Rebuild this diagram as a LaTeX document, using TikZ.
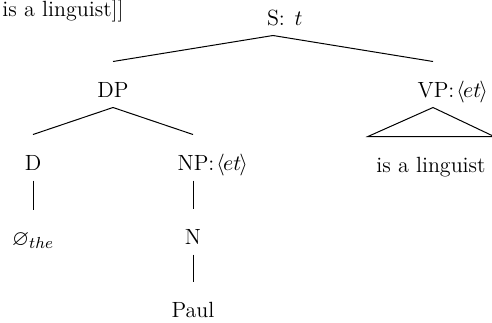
\documentclass[tikz,border=0pt]{standalone}
\usepackage{amssymb}
\begin{document}
\begin{tikzpicture}[x=0.5pt,y=-0.5pt,font=\fontsize{11pt}{13pt}\selectfont,line width=0.5pt,
  cat/.style={anchor=base,inner xsep=1pt,inner ysep=5pt,text height=12.5pt,text depth=0pt}]
  \useasboundingbox (0,0) rectangle (492,322);
  \clip (0,0) rectangle (492,322);
  % caption fragment
  \node[anchor=base west,inner sep=0pt] (cap) at (2,16) {is a linguist]]};
  % tree nodes
  \node[cat] (S) at (273,25) {S\rlap{: $t$}};
  \node[cat] (DP) at (113,97) {DP};
  \node[cat] (VP) at (433,97) {VP\rlap{:\kern1pt$\langle\mkern-1.5mu et\mkern-1.5mu\rangle$}};
  \node[cat] (D) at (33,170) {D};
  \node[cat] (NP) at (193,170) {NP\rlap{:\kern1pt$\langle\mkern-1.5mu et\mkern-1.5mu\rangle$}};
  \node[cat] (null) at (33,245) {$\varnothing_{the}$};
  \node[cat] (N) at (193,244) {N};
  \node[cat] (Paul) at (193,317) {Paul};
  \node[cat,inner xsep=4pt] (lex) at (431,172) {is a linguist};
  % branches
  \draw (S.south)--(DP.north);
  \draw (S.south)--(VP.north);
  \draw (DP.south)--(D.north);
  \draw (DP.south)--(NP.north);
  \draw (D.south)--(null.north);
  \draw (NP.south)--(N.north);
  \draw (N.south)--(Paul.north);
  \draw (VP.south)--(lex.north west)--(lex.north east)--cycle;
\end{tikzpicture}
\end{document}
